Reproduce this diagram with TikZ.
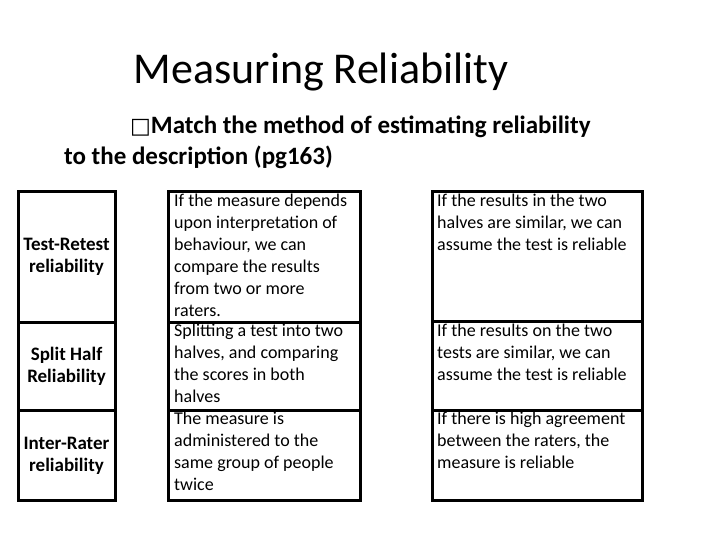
\documentclass[tikz,border=0pt]{standalone}
\usepackage{fontspec}
\setmainfont{Carlito}
\newfontfamily\djv{DejaVu Sans}
\begin{document}
\begin{tikzpicture}[x=1pt,y=-1pt,
  cell/.style={draw,line width=3pt},
  lab/.style={font=\fontsize{19}{22}\selectfont\bfseries,align=center},
  txt/.style={font=\fontsize{18}{22}\selectfont,align=left,anchor=north west,inner sep=0pt}]
\useasboundingbox (0,0) rectangle (720,540);
\node (title) at (321,72) {\fontsize{44}{48}\selectfont Measuring Reliability};
\node[anchor=north west,inner sep=0pt] (bul) at (130,116) {\fontsize{25}{29}\selectfont\bfseries {\djv\fontsize{22}{29}\selectfont □}Match the method of estimating reliability};
\node[anchor=north west,inner sep=0pt] (bul2) at (64,146) {\fontsize{25}{29}\selectfont\bfseries to the description (pg163)};
% left column
\draw[cell] (18,192) rectangle (115,322);
\draw[cell] (18,322) rectangle (115,410);
\draw[cell] (18,410) rectangle (115,500);
\node[lab] (l1) at (66.5,257) {Test-Retest\\reliability};
\node[lab] (l2) at (66.5,366) {Split Half\\Reliability};
\node[lab] (l3) at (66.5,456) {Inter-Rater\\reliability};
% middle column
\draw[cell] (168,192) rectangle (360,322);
\draw[cell] (168,322) rectangle (360,410);
\draw[cell] (168,410) rectangle (360,500);
\node[txt] (m1) at (174,194) {If the measure depends\\upon interpretation of\\behaviour, we can\\compare the results\\from two or more\\raters.};
\node[txt] (m2) at (174,324) {Splitting a test into two\\halves, and comparing\\the scores in both\\halves};
\node[txt] (m3) at (174,412) {The measure is\\administered to the\\same group of people\\twice};
% right column
\draw[cell] (432,192) rectangle (642,321);
\draw[cell] (432,321) rectangle (642,410);
\draw[cell] (432,410) rectangle (642,500);
\node[txt] (r1) at (437,194) {If the results in the two\\halves are similar, we can\\assume the test is reliable};
\node[txt] (r2) at (437,324) {If the results on the two\\tests are similar, we can\\assume the test is reliable};
\node[txt] (r3) at (437,412) {If there is high agreement\\between the raters, the\\measure is reliable};
\end{tikzpicture}
\end{document}
